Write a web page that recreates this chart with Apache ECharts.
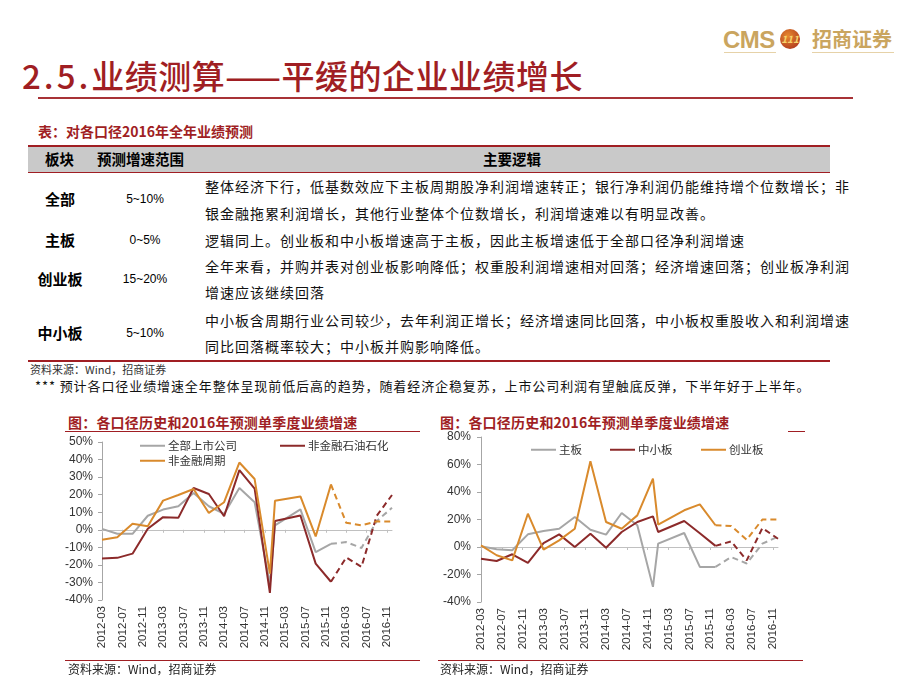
<!DOCTYPE html>
<html><head><meta charset="utf-8">
<script src="https://cdn.jsdelivr.net/npm/echarts@6/dist/echarts.min.js"></script>
<style>
html,body{margin:0;padding:0;background:#fff;}
#page{position:relative;width:906px;height:682px;overflow:hidden;font-family:"Noto Sans CJK SC","Liberation Sans",sans-serif;color:#000;}
.t{position:absolute;white-space:nowrap;line-height:1;}
.ln{position:absolute;}
#chart{position:absolute;left:0;top:400px;width:906px;height:282px;}
.body{font-size:14px;letter-spacing:1px;color:#111;}
.lab{font-size:15px;font-weight:bold;transform:translateX(-50%);}
.rng{font-size:12px;font-family:"Liberation Sans",Arial,sans-serif;transform:translateX(-50%);}
.red{color:#a01e23;}
</style></head><body>
<div id="page">
  <!-- logo -->
  <div class="t" style="left:723px;top:28px;font-size:24px;font-weight:bold;color:#caa55f;font-family:'Liberation Sans',Arial,sans-serif;letter-spacing:-0.5px;">CMS</div>
  <div class="t" style="left:780px;top:29px;width:20px;height:20px;border-radius:50%;background:radial-gradient(circle at 40% 35%,#e8892f,#a3281b);color:#f6d36b;font-size:10px;font-weight:bold;text-align:center;line-height:20px;font-style:italic;">111</div>
  <div class="t" style="left:812px;top:29px;font-size:20px;font-weight:bold;color:#caa55f;">招商证券</div>
  <div class="ln" style="left:724px;top:52px;width:52px;height:1px;background:#e6d2a8;"></div>
  <div class="ln" style="left:812px;top:52px;width:82px;height:1px;background:#e6d2a8;"></div>

  <!-- title -->
  <div class="t red" style="left:22px;top:59px;font-size:33px;font-weight:500;letter-spacing:0.5px;"><span style="letter-spacing:3px;">2.5.</span>业绩测算——平缓的企业业绩增长</div>
  <div class="ln" style="left:38px;top:97px;width:815px;height:2px;background:#a83236;"></div>

  <!-- table -->
  <div class="t red" style="left:38px;top:124px;font-size:14px;font-weight:bold;">表：对各口径2016年全年业绩预测</div>
  <div class="ln" style="left:28px;top:145px;width:802px;height:1.5px;background:#a01e23;"></div>
  <div class="ln" style="left:28px;top:146.5px;width:802px;height:25px;background:#c9c9c9;"></div>
  <div class="ln" style="left:28px;top:171.5px;width:802px;height:1.5px;background:#a01e23;"></div>
  <div class="t" style="left:45px;top:152px;font-size:14.5px;font-weight:bold;">板块</div>
  <div class="t" style="left:97px;top:152px;font-size:14.5px;font-weight:bold;">预测增速范围</div>
  <div class="t" style="left:483px;top:152px;font-size:14.5px;font-weight:bold;">主要逻辑</div>

  <div class="t lab" style="left:60px;top:191px;">全部</div>
  <div class="t rng" style="left:145px;top:193px;">5~10%</div>
  <div class="t body" style="left:205px;top:179px;">整体经济下行，低基数效应下主板周期股净利润增速转正；银行净利润仍能维持增个位数增长；非</div>
  <div class="t body" style="left:205px;top:206px;">银金融拖累利润增长，其他行业整体个位数增长，利润增速难以有明显改善。</div>

  <div class="t lab" style="left:60px;top:232px;">主板</div>
  <div class="t rng" style="left:145px;top:234px;">0~5%</div>
  <div class="t body" style="left:205px;top:233px;">逻辑同上。创业板和中小板增速高于主板，因此主板增速低于全部口径净利润增速</div>

  <div class="t lab" style="left:60px;top:271px;">创业板</div>
  <div class="t rng" style="left:145px;top:273px;">15~20%</div>
  <div class="t body" style="left:205px;top:259px;">全年来看，并购并表对创业板影响降低；权重股利润增速相对回落；经济增速回落；创业板净利润</div>
  <div class="t body" style="left:205px;top:285px;">增速应该继续回落</div>

  <div class="t lab" style="left:60px;top:325px;">中小板</div>
  <div class="t rng" style="left:145px;top:327px;">5~10%</div>
  <div class="t body" style="left:205px;top:313px;">中小板含周期行业公司较少，去年利润正增长；经济增速同比回落，中小板权重股收入和利润增速</div>
  <div class="t body" style="left:205px;top:339px;">同比回落概率较大；中小板并购影响降低。</div>

  <div class="ln" style="left:28px;top:360px;width:802px;height:1.5px;background:#a01e23;"></div>
  <div class="t" style="left:30px;top:364px;font-size:11px;color:#333;">资料来源：Wind，招商证券</div>
  <div class="t" style="left:35px;top:379px;font-size:13px;letter-spacing:0.9px;color:#111;">*** 预计各口径业绩增速全年整体呈现前低后高的趋势，随着经济企稳复苏，上市公司利润有望触底反弹，下半年好于上半年。</div>

  <!-- chart titles & sources -->
  <div class="t red" style="left:68px;top:415px;font-size:14px;font-weight:bold;letter-spacing:0.2px;">图：各口径历史和2016年预测单季度业绩增速</div>
  <div class="ln" style="left:65px;top:431px;width:355px;height:1px;background:#a01e23;"></div>
  <div class="t red" style="left:440px;top:415px;font-size:14px;font-weight:bold;letter-spacing:0.2px;">图：各口径历史和2016年预测单季度业绩增速</div>
  <div class="ln" style="left:788px;top:431px;width:17px;height:1px;background:#a01e23;"></div>

  <div id="chart"></div>

  <div class="ln" style="left:65px;top:660px;width:355px;height:1px;background:#a01e23;"></div>
  <div class="ln" style="left:438px;top:660px;width:365px;height:1px;background:#a01e23;"></div>
  <div class="t" style="left:68px;top:663px;font-size:12px;color:#222;">资料来源：Wind，招商证券</div>
  <div class="t" style="left:440px;top:663px;font-size:12px;color:#222;">资料来源：Wind，招商证券</div>
</div>
<script>
// ---- axis categories (monthly date axis) ----
const months = [
 '2012-03','2012-04','2012-05','2012-06','2012-07','2012-08','2012-09','2012-10','2012-11','2012-12',
 '2013-01','2013-02','2013-03','2013-04','2013-05','2013-06','2013-07','2013-08','2013-09','2013-10','2013-11','2013-12',
 '2014-01','2014-02','2014-03','2014-04','2014-05','2014-06','2014-07','2014-08','2014-09','2014-10','2014-11','2014-12',
 '2015-01','2015-02','2015-03','2015-04','2015-05','2015-06','2015-07','2015-08','2015-09','2015-10','2015-11','2015-12',
 '2016-01','2016-02','2016-03','2016-04','2016-05','2016-06','2016-07','2016-08','2016-09','2016-10','2016-11','2016-12'
];
// ---- data dates ----
const histDates = ['2012-03','2012-06','2012-09','2012-12','2013-03','2013-06','2013-09','2013-12',
                   '2014-03','2014-06','2014-09','2014-12','2015-01','2015-06','2015-09','2015-12'];
const foreDates = ['2015-12','2016-03','2016-06','2016-09','2016-12'];

// ---- left chart (%): 全部上市公司 / 非金融石油石化 / 非金融周期 ----
const allHist   = [0.5,-2.3,-2.3,8,11.5,13.4,21,13.4,9,23.8,15.7,-31,2.5,11.6,-12.7,-8];
const allFore   = [-8,-7,-10.4,5,12.5];
const oilHist   = [-16.4,-16,-13.6,0.6,7.2,6.8,23.8,20.4,7.7,34,23.5,-36,5,8.1,-19.3,-29.6];
const oilFore   = [-29.6,-15.8,-21.1,8,19.8];
const cycHist   = [-5.7,-4.2,3.4,2,16.6,19.8,23.2,9.6,15.7,38.3,28.9,-25,16.5,19,-3.8,25.8];
const cycFore   = [25.8,4,2.5,4.8,4.7];

// ---- right chart (%): 主板 / 中小板 / 创业板 ----
const mainHist  = [0.5,-1.7,-2.4,9.2,11.6,13.3,21.8,12.6,9,24.7,15.8,-29,2.4,10.2,-14.5,-14.5];
const mainFore  = [-14.5,-7.3,-12,2.4,7.5];
const smeHist   = [-8.5,-10.2,-5.3,-11.6,2.9,9.2,0,9.7,-0.5,10.9,18.2,22.3,10.9,18.9,10,0.8];
const smeFore   = [0.8,4.1,-9.7,13.8,6];
const gemHist   = [1.2,-6,-9.7,24.2,-1.9,4.8,13.3,62.3,18.2,13.3,23,49.7,16.2,26.7,31,15.8];
const gemFore   = [15.8,15.3,5.3,20,20];

const leftNames  = ['全部上市公司','非金融石油石化','非金融周期'];
const rightNames = ['主板','中小板','创业板'];

const GRAY='#a6a6a6', RED='#8c2a2a', ORANGE='#d98a2c';
const FONT='"Liberation Sans", Arial, sans-serif';
const CJK='"Noto Sans CJK SC", sans-serif';

function pairs(dates, vals){ return dates.map((d,i)=>[d, vals[i]]); }
function hist(name, dates, vals, color, gi){
  return {type:'line', name, xAxisIndex:gi*2, yAxisIndex:gi, data:pairs(dates,vals),
    symbol:'none', connectNulls:true, lineStyle:{width:2,color}, itemStyle:{color}, silent:true};
}
function fore(name, dates, vals, color, gi){
  return {type:'line', name:name+'预测', xAxisIndex:gi*2, yAxisIndex:gi, data:pairs(dates,vals),
    symbol:'none', connectNulls:true, lineStyle:{width:2,color,type:[6,4]}, itemStyle:{color}, silent:true};
}
function xAxes(gi){
  return [
    {type:'category', gridIndex:gi, data:months, boundaryGap:false,
     axisLine:{show:false,onZero:false}, axisTick:{show:false}, splitLine:{show:false},
     axisLabel:{interval:3, rotate:90, fontSize:11.5, color:'#333', margin:6, fontFamily:FONT}},
    {type:'category', gridIndex:gi, data:months, boundaryGap:false, position:'bottom',
     axisLine:{show:true,onZero:true,lineStyle:{color:'#c0c0c0',width:1}},
     axisTick:{show:true,interval:3,length:3,lineStyle:{color:'#c0c0c0'}},
     axisLabel:{show:false}, splitLine:{show:false}}
  ];
}
function yAxis(gi, min, max, step, margin){
  return {type:'value', gridIndex:gi, min, max, interval:step,
    axisLine:{show:true,lineStyle:{color:'#a6a6a6'}},
    axisTick:{show:true,length:4,lineStyle:{color:'#a6a6a6'}},
    splitLine:{show:false},
    axisLabel:{formatter:'{value}%', fontSize:12, color:'#333', margin, fontFamily:FONT}};
}
function legend(name, left, top){
  return {data:[name], left, top, icon:'rect', itemWidth:25, itemHeight:2, itemGap:5,
    selectedMode:false, textStyle:{fontSize:11.5, color:'#333', fontFamily:CJK, padding:[0,0,0,-2]}};
}

const chart = echarts.init(document.getElementById('chart'), null, {renderer:'canvas'});
chart.setOption({
  animation:false,
  backgroundColor:'transparent',
  grid:[
    {left:102, top:42, width:290, height:158, containLabel:false},
    {left:481, top:37, width:297, height:165, containLabel:false}
  ],
  xAxis:[...xAxes(0), ...xAxes(1)],
  yAxis:[yAxis(0,-40,50,10,9), yAxis(1,-40,80,20,10)],
  legend:[
    legend(leftNames[0],135,35), legend(leftNames[1],275,35), legend(leftNames[2],135,50),
    legend(rightNames[0],526,39), legend(rightNames[1],605,39), legend(rightNames[2],696,39)
  ],
  series:[
    hist(leftNames[0],histDates,allHist,GRAY,0),
    hist(leftNames[1],histDates,oilHist,RED,0),
    hist(leftNames[2],histDates,cycHist,ORANGE,0),
    fore(leftNames[0],foreDates,allFore,GRAY,0),
    fore(leftNames[1],foreDates,oilFore,RED,0),
    fore(leftNames[2],foreDates,cycFore,ORANGE,0),
    hist(rightNames[0],histDates,mainHist,GRAY,1),
    hist(rightNames[1],histDates,smeHist,RED,1),
    hist(rightNames[2],histDates,gemHist,ORANGE,1),
    fore(rightNames[0],foreDates,mainFore,GRAY,1),
    fore(rightNames[1],foreDates,smeFore,RED,1),
    fore(rightNames[2],foreDates,gemFore,ORANGE,1)
  ]
});
</script>
</body></html>
